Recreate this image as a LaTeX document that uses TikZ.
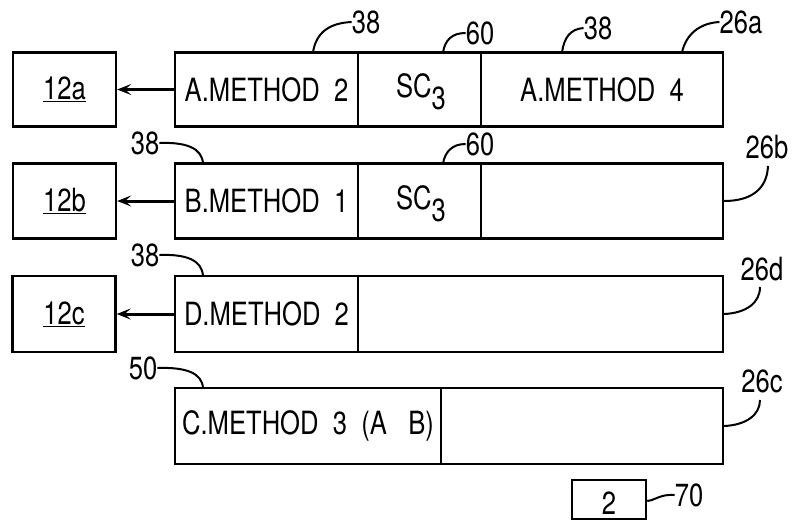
\documentclass[tikz,border=0pt]{standalone}
\usepackage{fontspec}
\setmainfont{TeX Gyre Heros}[FakeStretch=0.80]
\usetikzlibrary{arrows.meta}
\begin{document}
\begin{tikzpicture}[x=1pt,y=-1pt,
  every node/.style={font=\fontsize{32}{34}\selectfont, inner sep=0pt},
  cell/.style={draw, line width=2.4pt, rectangle},
  refl/.style={anchor=center},
  lead/.style={line width=2pt},
  outarrow/.style={line width=3pt, -{Stealth[length=14pt,width=11pt,inset=6pt]}}]
\useasboundingbox (0,0) rectangle (796,520);
% row 1 (26a)
\node[cell, minimum width=183pt, minimum height=74pt] (a1) at (266.5,89.5) {A.METHOD\ \ 2};
\node[cell, minimum width=123pt, minimum height=74pt] (a2) at (419.5,89.5) {};
\node (a2t) at (421,92) {SC\raisebox{-12pt}{3}};
\node[cell, minimum width=242pt, minimum height=74pt] (a3) at (602,89.5) {A.METHOD\ \ 4};
% row 2 (26b)
\node[cell, minimum width=183pt, minimum height=75pt] (b1) at (266.5,201) {B.METHOD\ \ 1};
\node[cell, minimum width=123pt, minimum height=75pt] (b2) at (419.5,201) {};
\node (b2t) at (421,204) {SC\raisebox{-12pt}{3}};
\node[cell, minimum width=242pt, minimum height=75pt] (b3) at (602,201) {};
% row 3 (26d)
\node[cell, minimum width=183pt, minimum height=76pt] (d1) at (266.5,314) {D.METHOD\ \ 2};
\node[cell, minimum width=365pt, minimum height=76pt] (d2) at (540.5,314) {};
% row 4 (26c)
\node[cell, minimum width=266pt, minimum height=76pt] (c1) at (308,426) {C.METHOD\ \ 3\ \ (A\ \ \ B)};
\node[cell, minimum width=282pt, minimum height=76pt] (c2) at (582,426) {};
% left boxes
\node[cell, minimum width=103pt, minimum height=74pt] (t1) at (64.5,89.5) {\underline{12a}};
\node[cell, minimum width=103pt, minimum height=75pt] (t2) at (64.5,201) {\underline{12b}};
\node[cell, minimum width=103pt, minimum height=76pt] (t3) at (64,314) {\underline{12c}};
% arrows
\draw[outarrow] (a1.west) -- (t1.east);
\draw[outarrow] (b1.west) -- (t2.east);
\draw[outarrow] (d1.west) -- (t3.east);
% box 2
\node[cell, minimum width=74pt, minimum height=39pt] (k) at (609,499.5) {};
\node (kt) at (609,503) {2};
% reference labels
\node[refl] (r1) at (366,22) {38};
\node[refl] (r2) at (480,33) {60};
\node[refl] (r3) at (598,28) {38};
\node[refl] (r4) at (741,22) {26a};
\node[refl] (r5) at (145,143) {38};
\node[refl] (r6) at (480,144) {60};
\node[refl] (r7) at (767,147) {26b};
\node[refl] (r8) at (145,255) {38};
\node[refl] (r9) at (762,269) {26d};
\node[refl] (r10) at (143,368) {50};
\node[refl] (r11) at (762,381) {26c};
\node[refl] (r12) at (689,495) {70};
% leaders
\draw[lead] (313,52.5) .. controls (316,32) and (330,23) .. (r1.west);
\draw[lead] (443,52.5) .. controls (445,40) and (452,33) .. (r2.west);
\draw[lead] (562,52.5) .. controls (564,38) and (570,29) .. (r3.west);
\draw[lead] (682,52.5) .. controls (686,34) and (700,23) .. (r4.west);
\draw[lead] (r5.east) .. controls (186,142) and (202,148) .. (203,163.5);
\draw[lead] (443,163.5) .. controls (445,152) and (452,144) .. (r6.west);
\draw[lead] (b3.east) .. controls (750,201) and (767,190) .. (768,166);
\draw[lead] (r8.east) .. controls (186,254) and (202,260) .. (203,276);
\draw[lead] (d2.east) .. controls (746,313) and (760,303) .. (760,287);
\draw[lead] (r10.east) .. controls (186,367) and (202,373) .. (203,388);
\draw[lead] (c2.east) .. controls (746,425) and (760,415) .. (760,400);
\draw[lead] (k.east |- 0,501) .. controls (656,500) and (660,494) .. (r12.west);
\end{tikzpicture}
\end{document}
